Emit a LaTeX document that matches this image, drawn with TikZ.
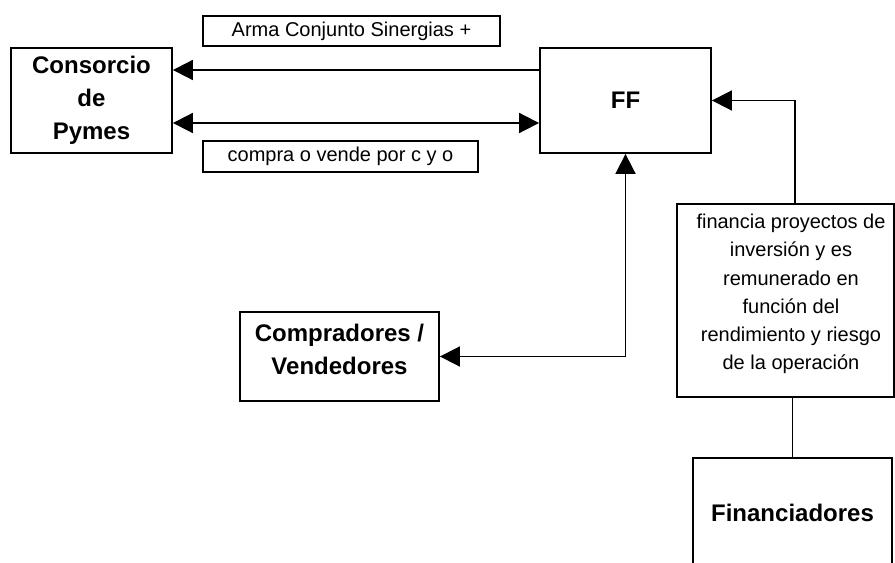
\documentclass[tikz,border=0pt]{standalone}
\usepackage{fontspec}
\setmainfont{Liberation Sans}
\usetikzlibrary{arrows.meta,calc}
\begin{document}
\begin{tikzpicture}[x=0.75pt,y=-0.75pt,
    caja/.style={draw, line width=1.4pt, inner sep=0pt},
    tam/.style 2 args={minimum width=#1*0.75pt, minimum height=#2*0.75pt},
    titulo/.style={font=\fontsize{18}{24.75}\selectfont\bfseries, align=center},
    texto/.style={font=\fontsize{15}{21.2}\selectfont, align=center},
    flecha/.style={line width=1.4pt, -{Triangle[length=15pt,width=15pt]}},
    flechas/.style={line width=1.4pt, {Triangle[length=15pt,width=15pt]}-{Triangle[length=15pt,width=15pt]}}]
  \clip (0,0) rectangle (895,563);

  \node[caja, titulo, tam={161}{105}] (consorcio) at (91.5,100.5) {Consorcio\\de\\Pymes};
  \node[caja, titulo, tam={171}{105}] (ff) at (625.5,100.5) {FF};
  \node[caja, texto, tam={297}{30}] (arma) at (351.5,31) {Arma Conjunto Sinergias +};
  \node[caja, texto, tam={275}{31}] (compra) at (340.5,156.5) {compra o vende por c y o};

  \node[caja, tam={199}{89}] (compradores) at (339.5,356.5) {};
  \node[titulo] (comptxt) at (339.5,349) {Compradores /\\Vendedores};

  \node[caja, tam={217}{193}] (financia) at (785.5,300.5) {};
  \node[texto] (fintxt) at (791,294) {financia proyectos de\\inversión y es\\remunerado en\\función del\\rendimiento y riesgo\\de la operación};
  \node[caja, titulo, tam={199}{110}] (financiadores) at (792.5,513) {Financiadores};

  % flujos
  \draw[flecha] ($(ff.west)+(0,-30.5)$) -- ($(consorcio.east)+(0,-30.5)$);
  \draw[flechas] ($(consorcio.east)+(0,22.5)$) -- ($(ff.west)+(0,22.5)$);
  \draw[flecha] ($(financia.north)+(9.5,0)$) |- (ff.east);
  \draw[line width=1.4pt] (financiadores.north) -- (financiadores.north |- financia.south);
  \draw[flechas] (ff.south) |- (compradores.east);
\end{tikzpicture}
\end{document}
